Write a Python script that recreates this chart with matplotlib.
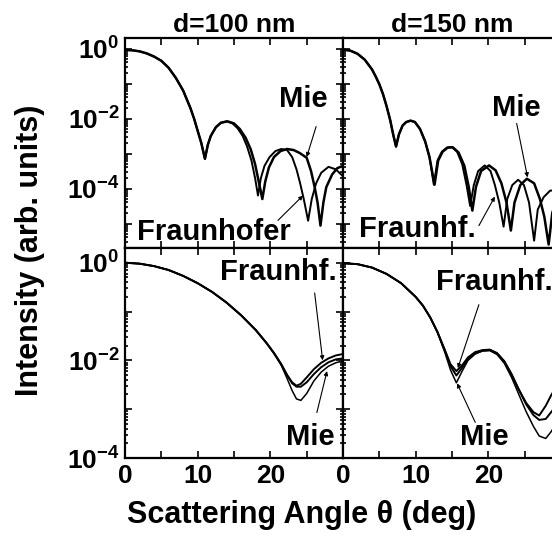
import numpy as np
import matplotlib
matplotlib.use('Agg')
import matplotlib.pyplot as plt
import matplotlib.ticker as ticker

plt.rcParams['font.family'] = ['Liberation Sans', 'DejaVu Sans']
plt.rcParams['font.weight'] = 'bold'
plt.rcParams['mathtext.fontset'] = 'custom'
plt.rcParams['mathtext.rm'] = 'Liberation Sans:bold'
plt.rcParams['mathtext.bf'] = 'Liberation Sans:bold'
plt.rcParams['mathtext.it'] = 'Liberation Sans:bold'

# ---- data: angle (deg) and log10 of intensity ----
# d=100 nm, top row
tl_fraun_th = [0, 1, 2, 3, 4, 5, 6, 7, 8, 9, 9.5, 10, 10.5, 11.0, 11.4, 11.8, 12.5, 13.2, 14.0,
               14.8, 15.5, 16.2, 16.8, 17.4, 17.9, 18.3, 18.7, 19.2, 19.9, 20.7, 21.5, 22.3,
               23.0, 23.6, 24.1, 24.6, 25.2, 25.7, 26.3, 27.0, 28.0, 29.0, 30]
tl_fraun_lg = [-0.04, -0.05, -0.08, -0.14, -0.23, -0.35, -0.55, -0.84, -1.2, -1.7, -2.0, -2.35,
               -2.7, -3.15, -2.75, -2.5, -2.25, -2.12, -2.08, -2.14, -2.28, -2.5, -2.8, -3.2,
               -3.7, -4.2, -3.7, -3.35, -3.1, -2.93, -2.87, -2.9, -3.1, -3.45, -3.85, -4.3,
               -4.92, -4.3, -3.85, -3.55, -3.38, -3.45, -3.65]
tl_mie_th = [0, 1, 2, 3, 4, 5, 6, 7, 8, 9, 9.5, 10, 10.5, 11.0, 11.4, 11.8, 12.5, 13.2, 14.1,
             15.0, 15.8, 16.6, 17.3, 17.9, 18.4, 18.9, 19.3, 19.8, 20.5, 21.4, 22.3, 23.2,
             24.0, 25.0, 25.6, 26.1, 26.5, 26.9, 27.3, 27.7, 28.5, 29.2, 30]
tl_mie_lg = [-0.04, -0.05, -0.08, -0.14, -0.23, -0.35, -0.55, -0.84, -1.2, -1.7, -2.0, -2.35,
             -2.7, -3.15, -2.75, -2.5, -2.25, -2.12, -2.08, -2.14, -2.3, -2.55, -2.88, -3.3,
             -3.8, -4.3, -3.8, -3.4, -3.1, -2.93, -2.87, -2.9, -2.98, -3.12, -3.5, -3.96,
             -4.4, -5.06, -4.4, -3.96, -3.6, -3.42, -3.35]

# d=150 nm, top row
tr_fraun_th = [0, 1, 2, 3, 4, 4.5, 5, 5.5, 6, 6.5, 6.9, 7.3, 7.7, 8.2, 8.7, 9.3, 9.9, 10.6,
               11.3, 11.9, 12.5, 13.0, 13.6, 14.3, 15.0, 15.7, 16.4, 17.0, 17.5, 18.0, 18.6,
               19.5, 20.3, 20.9, 21.5, 22.1, 22.6, 23.3, 24.1, 24.9, 25.6, 26.3, 26.8, 27.6,
               28.5, 29.3, 30]
tr_fraun_lg = [-0.03, -0.06, -0.15, -0.32, -0.6, -0.8, -1.02, -1.3, -1.65, -2.05, -2.45, -2.8,
               -2.45, -2.2, -2.1, -2.06, -2.1, -2.3, -2.65, -3.1, -3.89, -3.2, -2.95, -2.83,
               -2.82, -2.95, -3.3, -3.9, -4.5, -3.9, -3.5, -3.34, -3.5, -3.9, -4.4, -5.09,
               -4.3, -3.9, -3.75, -3.9, -4.4, -5.49, -4.6, -4.25, -4.06, -4.05, -4.15]
tr_mie_th = [0, 1, 2, 3, 4, 4.5, 5, 5.5, 6, 6.5, 6.9, 7.3, 7.7, 8.2, 8.7, 9.3, 9.9, 10.6,
             11.3, 11.9, 12.6, 13.1, 13.7, 14.4, 15.1, 15.9, 16.7, 17.3, 17.8, 18.3, 19.0,
             20.1, 21.0, 21.8, 22.5, 23.1, 23.6, 24.4, 25.3, 26.3, 27.1, 27.7, 28.3, 28.8,
             29.4, 30]
tr_mie_lg = [-0.03, -0.06, -0.15, -0.32, -0.6, -0.8, -1.02, -1.3, -1.65, -2.05, -2.45, -2.8,
             -2.45, -2.2, -2.1, -2.06, -2.1, -2.3, -2.65, -3.1, -3.89, -3.2, -2.95, -2.83,
             -2.82, -2.97, -3.35, -3.95, -4.63, -3.95, -3.5, -3.34, -3.48, -3.85, -4.4, -5.2,
             -4.4, -3.9, -3.72, -3.85, -4.3, -4.8, -5.6, -4.7, -4.3, -4.1]

# d=100 nm, bottom row (three curves)
bl_th = [0, 2, 4, 6, 8, 10, 12, 14, 16, 18, 19.5, 20.5, 21.5, 22.3, 23.0, 23.6, 24.2, 25.0,
         26.0, 27.0, 28.0, 29.0, 30]
bl_fraun_lg = [0, -0.02, -0.07, -0.15, -0.27, -0.42, -0.6, -0.82, -1.08, -1.38, -1.65, -1.85,
               -2.08, -2.3, -2.45, -2.52, -2.48, -2.35, -2.18, -2.05, -1.96, -1.9, -1.87]
bl_mid_lg = [0, -0.02, -0.07, -0.15, -0.27, -0.42, -0.6, -0.82, -1.08, -1.38, -1.65, -1.85,
             -2.08, -2.3, -2.47, -2.54, -2.54, -2.45, -2.28, -2.14, -2.04, -1.98, -1.96]
bl_mie_lg = [0, -0.02, -0.07, -0.15, -0.27, -0.42, -0.6, -0.82, -1.08, -1.38, -1.65, -1.86,
             -2.1, -2.37, -2.62, -2.79, -2.82, -2.68, -2.42, -2.24, -2.12, -2.05, -2.01]

# d=150 nm, bottom row (three curves)
br_th = [0, 2, 4, 6, 8, 10, 11, 12, 13, 14, 14.8, 15.6, 16.4, 17.2, 18.2, 19.2, 20.2, 21.2,
         22.2, 23.2, 24.2, 25.2, 26.2, 27.0, 27.9, 28.7, 30]
br_fraun_lg = [-0.01, -0.03, -0.1, -0.23, -0.42, -0.7, -0.88, -1.12, -1.42, -1.78, -2.08,
               -2.22, -2.1, -1.94, -1.83, -1.79, -1.78, -1.85, -2.02, -2.3, -2.6, -2.87, -3.06,
               -3.13, -2.93, -2.7, -2.4]
br_mid_lg = [-0.01, -0.03, -0.1, -0.23, -0.42, -0.7, -0.88, -1.12, -1.42, -1.8, -2.12,
             -2.31, -2.15, -1.97, -1.85, -1.8, -1.79, -1.86, -2.02, -2.28, -2.6, -2.9, -3.12,
             -3.22, -3.2, -3.05, -2.8]
br_mie_lg = [-0.01, -0.03, -0.1, -0.23, -0.42, -0.7, -0.88, -1.12, -1.43, -1.83, -2.2,
             -2.46, -2.22, -2.0, -1.87, -1.81, -1.8, -1.88, -2.06, -2.35, -2.7, -3.05, -3.35,
             -3.55, -3.6, -3.45, -3.1]

titles = ['d=100 nm', 'd=150 nm']

fig = plt.figure(figsize=(5.52, 5.43), dpi=100)
W, H = 552.0, 543.0
axw = 218 / W
axh = 210 / H
lefts = [125 / W, 343 / W]
bottoms = [(H - 248) / H, (H - 458) / H]

axes = [[fig.add_axes([lefts[c], bottoms[r], axw, axh]) for c in range(2)] for r in range(2)]


def log_fmt(y, pos):
    e = int(round(np.log10(y)))
    if e % 2 == 0:
        return r'$10^{%d}$' % e
    return ''


def x_fmt(x, pos):
    if abs(x % 10) < 1e-6 and x < 29:
        return '%d' % x
    return ''


lw = 1.4
ax = axes[0][0]
ax.plot(tl_fraun_th, 10 ** np.array(tl_fraun_lg), color='k', lw=lw)
ax.plot(tl_mie_th, 10 ** np.array(tl_mie_lg), color='k', lw=lw + 0.4)
ax = axes[0][1]
ax.plot(tr_fraun_th, 10 ** np.array(tr_fraun_lg), color='k', lw=lw)
ax.plot(tr_mie_th, 10 ** np.array(tr_mie_lg), color='k', lw=lw + 0.4)
ax = axes[1][0]
ax.plot(bl_th, 10 ** np.array(bl_fraun_lg), color='k', lw=lw)
ax.plot(bl_th, 10 ** np.array(bl_mid_lg), color='k', lw=lw)
ax.plot(bl_th, 10 ** np.array(bl_mie_lg), color='k', lw=lw - 0.3)
ax = axes[1][1]
ax.plot(br_th, 10 ** np.array(br_fraun_lg), color='k', lw=lw)
ax.plot(br_th, 10 ** np.array(br_mid_lg), color='k', lw=lw)
ax.plot(br_th, 10 ** np.array(br_mie_lg), color='k', lw=lw - 0.3)

for r in range(2):
    for c in range(2):
        ax = axes[r][c]
        ax.set_yscale('log')
        ax.set_xlim(0, 30)
        if r == 0:
            ax.set_ylim(2e-6, 2)
        else:
            ax.set_ylim(1e-4, 2)
        ax.yaxis.set_major_locator(ticker.LogLocator(base=10, numticks=20))
        ax.yaxis.set_minor_locator(ticker.LogLocator(base=10, subs=np.arange(2, 10), numticks=20))
        ax.yaxis.set_minor_formatter(ticker.NullFormatter())
        ax.xaxis.set_major_locator(ticker.MultipleLocator(5))
        ax.tick_params(which='both', direction='in', top=True, right=True, width=1.2)
        ax.tick_params(which='major', length=5, labelsize=19, pad=4)
        ax.tick_params(which='minor', length=2.5)
        for s in ax.spines.values():
            s.set_linewidth(1.6)
        if c == 0:
            ax.yaxis.set_major_formatter(ticker.FuncFormatter(log_fmt))
        else:
            ax.yaxis.set_major_formatter(ticker.NullFormatter())
        if r == 1:
            ax.xaxis.set_major_formatter(ticker.FuncFormatter(x_fmt))
        else:
            ax.xaxis.set_major_formatter(ticker.NullFormatter())
        if r == 0:
            ax.set_title(titles[c], fontsize=19, fontweight='bold', pad=4)

arrow = dict(arrowstyle='-|>', color='k', lw=0.8, mutation_scale=6, shrinkA=0, shrinkB=0)
tsize = 21


def label(ax, txt, tpos, start, tip):
    ax.text(tpos[0], 10 ** tpos[1], txt, fontsize=tsize, fontweight='bold',
            ha='center', va='center')
    ax.annotate('', xy=(tip[0], 10 ** tip[1]), xytext=(start[0], 10 ** start[1]),
                arrowprops=arrow)


label(axes[0][0], 'Mie', (24.6, -1.43), (26.3, -2.23), (25.0, -3.1))
label(axes[0][0], 'Fraunhofer', (12.2, -5.23), (21.05, -4.91), (24.5, -4.2))
label(axes[0][1], 'Mie', (23.9, -1.69), (23.9, -2.14), (25.4, -3.68))
label(axes[0][1], 'Fraunhf.', (10.2, -5.17), (18.7, -5.06), (20.9, -4.23))
label(axes[1][0], 'Fraunhf.', (21.05, -0.185), (26.1, -0.62), (27.2, -2.0))
label(axes[1][0], 'Mie', (25.5, -3.58), (26.4, -3.07), (27.8, -2.22))
label(axes[1][1], 'Fraunhf.', (20.8, -0.39), (18.7, -0.86), (15.8, -2.16))
label(axes[1][1], 'Mie', (19.4, -3.58), (18.2, -3.27), (15.7, -2.47))

fig.text(30 / W, 1 - 250 / H, 'Intensity (arb. units)', rotation=90, fontsize=22,
         fontweight='bold', ha='center', va='center')
fig.text(302 / W, 1 - 515 / H, 'Scattering Angle θ (deg)', fontsize=22,
         fontweight='bold', ha='center', va='center')

fig.savefig('out.png', dpi=100)
